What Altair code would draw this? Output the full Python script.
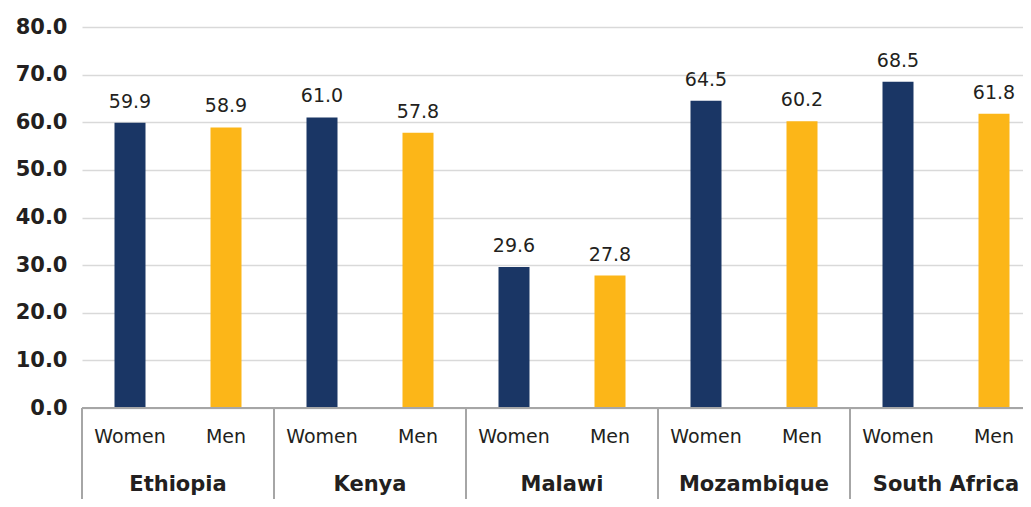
import altair as alt
import pandas as pd

countries = ["Ethiopia", "Kenya", "Malawi", "Mozambique", "South Africa"]
genders = ["Women", "Men"]
women = [59.9, 61.0, 29.6, 64.5, 68.5]
men = [58.9, 57.8, 27.8, 60.2, 61.8]
y_ticks = [0, 10, 20, 30, 40, 50, 60, 70, 80]

colors = ["#1a3665", "#fcb618"]
FONT = "DejaVu Sans"
TXT = "#231f20"

rows = []
for c, w, m in zip(countries, women, men):
    rows.append({"country": c, "gender": "Women", "key": c + "|Women", "value": w})
    rows.append({"country": c, "gender": "Men", "key": c + "|Men", "value": m})
df = pd.DataFrame(rows)
keys = list(df["key"])
cdf = pd.DataFrame({"country": countries, "key": [c + "|Women" for c in countries]})

W, H = 960, 381
xscale = alt.Scale(domain=keys, paddingInner=0, paddingOuter=0)
yscale = alt.Scale(domain=[0, 80], nice=False, zero=True)

base = alt.Chart(df)

bars = base.mark_bar(size=31).encode(
    x=alt.X("key:N", scale=xscale, axis=None, sort=keys),
    y=alt.Y("value:Q", scale=yscale, title=None,
            axis=alt.Axis(values=y_ticks, format=".1f", ticks=False, domain=False,
                          gridColor="#d9d9d9", gridWidth=1.5,
                          labelFont=FONT, labelFontSize=21, labelFontWeight="bold",
                          labelColor=TXT, labelPadding=15)),
    color=alt.Color("gender:N", scale=alt.Scale(domain=genders, range=colors), legend=None),
)

vals = base.mark_text(font=FONT, fontSize=19, color=TXT, baseline="alphabetic", dy=-15).encode(
    x=alt.X("key:N", scale=xscale, sort=keys),
    y=alt.Y("value:Q", scale=yscale),
    text=alt.Text("value:Q", format=".1f"),
)

inner = base.mark_text(font=FONT, fontSize=19, color=TXT, baseline="middle").encode(
    x=alt.X("key:N", scale=xscale, sort=keys),
    y=alt.value(410),
    text="gender:N",
)

cbase = alt.Chart(cdf)
outer = cbase.mark_text(font=FONT, fontSize=21, fontWeight="bold", color=TXT, baseline="alphabetic").encode(
    x=alt.X("key:N", scale=xscale, sort=keys, bandPosition=1),
    y=alt.value(464),
    text="country:N",
)

seps = cbase.mark_rule(color="#a6a6a6", strokeWidth=2).encode(
    x=alt.X("key:N", scale=xscale, sort=keys, bandPosition=0),
    y=alt.value(H),
    y2=alt.value(H + 110),
)

baseline_rule = alt.Chart(pd.DataFrame({"v": [0]})).mark_rule(color="#a6a6a6", strokeWidth=2).encode(
    y=alt.Y("v:Q", scale=yscale),
    x=alt.value(0),
    x2=alt.value(W),
)

chart = alt.layer(bars, vals, inner, outer, seps, baseline_rule).properties(
    width=W, height=H,
    autosize=alt.AutoSizeParams(type="none"),
    padding={"left": 74, "top": 19, "right": -19, "bottom": 91},
).configure_view(stroke=None)

chart.save("out.html", embed_options={"renderer": "svg", "actions": False})
